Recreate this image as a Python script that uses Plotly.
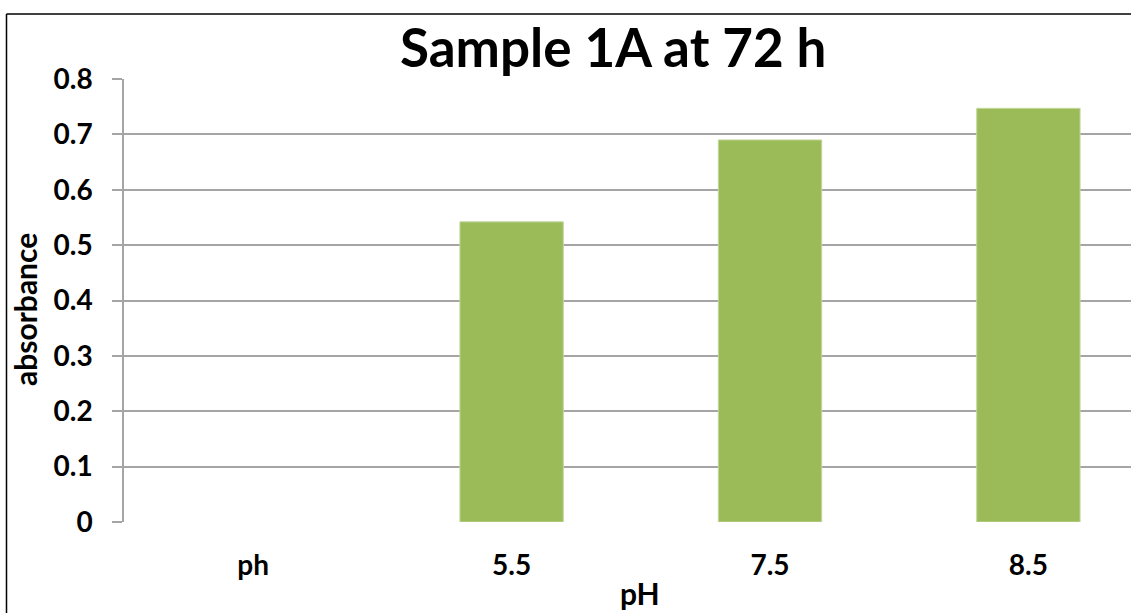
import plotly.graph_objects as go

# Absorbance of sample 1A after 72 h at each pH
categories = ["ph", "5.5", "7.5", "8.5"]
absorbance = [None, 0.542, 0.690, 0.747]
y_ticks = [0, 0.1, 0.2, 0.3, 0.4, 0.5, 0.6, 0.7, 0.8]
y_tick_text = ["0", "0.1", "0.2", "0.3", "0.4", "0.5", "0.6", "0.7", "0.8"]

W, H = 1131, 613
L, R, T, B = 124, 0, 79, 91
plot_w = W - L - R
plot_h = H - T - B


def px_x(px):
    return (px - L) / plot_w


def px_y(py):
    return (H - B - py) / plot_h


FONT = "Lato"
GRID = "#a5a5a5"

fig = go.Figure(
    go.Bar(
        x=list(range(len(categories))),
        y=absorbance,
        width=0.4,
        marker=dict(color="#9bbb59", line=dict(color="#c4d79b", width=1)),
    )
)

fig.update_layout(
    width=W,
    height=H,
    margin=dict(l=L, r=R, t=T, b=B, pad=0),
    paper_bgcolor="white",
    plot_bgcolor="white",
    showlegend=False,
    font=dict(family=FONT, color="#000000"),
)

fig.update_xaxes(
    range=[-0.5, 3.397],
    tickmode="array",
    tickvals=list(range(len(categories))),
    ticktext=categories,
    tickfont=dict(family=FONT, size=28, color="#000000", weight="bold"),
    ticks="",
    ticklabelstandoff=24,
    showgrid=False,
    zeroline=False,
    showline=False,
)

fig.update_yaxes(
    range=[0, 0.8],
    tickmode="array",
    tickvals=y_ticks,
    ticktext=y_tick_text,
    tickfont=dict(family=FONT, size=28, color="#000000", weight="bold"),
    ticks="outside",
    ticklen=10,
    tickwidth=1.5,
    tickcolor=GRID,
    ticklabelstandoff=14,
    showgrid=True,
    gridcolor=GRID,
    gridwidth=1.5,
    zeroline=False,
    showline=True,
    linecolor=GRID,
    linewidth=1.5,
)

fig.add_annotation(
    text="<b>Sample 1A at 72 h</b>",
    xref="paper", yref="paper",
    x=px_x(613), y=px_y(46),
    xanchor="center", yanchor="middle",
    showarrow=False,
    font=dict(family=FONT, size=53, color="#000000"),
)
fig.add_annotation(
    text="<b>absorbance</b>",
    xref="paper", yref="paper",
    x=px_x(25), y=px_y(310),
    xanchor="center", yanchor="middle",
    textangle=-90,
    showarrow=False,
    font=dict(family=FONT, size=30, color="#000000"),
)
fig.add_annotation(
    text="<b>pH</b>",
    xref="paper", yref="paper",
    x=px_x(640), y=px_y(612),
    xanchor="center", yanchor="bottom",
    borderpad=0,
    showarrow=False,
    font=dict(family=FONT, size=30, color="#000000"),
)

# Outer chart frame (left and top edges)
fig.add_shape(type="line", xref="paper", yref="paper",
              x0=px_x(6.5), x1=px_x(6.5), y0=px_y(14), y1=px_y(H + 5),
              line=dict(color="#000000", width=1.5))
fig.add_shape(type="line", xref="paper", yref="paper",
              x0=px_x(6.5), x1=px_x(W + 5), y0=px_y(14), y1=px_y(14),
              line=dict(color="#000000", width=1.5))

fig.write_html("out.html")
